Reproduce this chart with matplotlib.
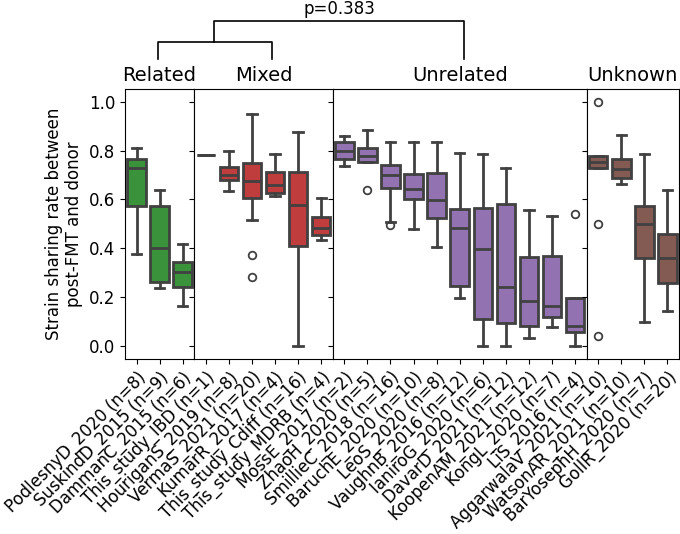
import matplotlib
matplotlib.use("Agg")
import matplotlib.pyplot as plt
from matplotlib.lines import Line2D

# group order and colours
groups = ["Related", "Mixed", "Unrelated", "Unknown"]
group_colors = ["#3a923a", "#c03d3e", "#9372b2", "#845b53"]
line_gray = "#414141"

studies = [
    "PodlesnyD_2020 (n=8)", "SuskindD_2015 (n=9)", "DammanC_2015 (n=6)",
    "This_study_IBD (n=1)", "HouriganS_2019 (n=8)", "VermaS_2021 (n=20)",
    "KumarR_2017 (n=4)", "This_study_Cdiff (n=16)", "This_study_MDRB (n=4)",
    "MossE_2017 (n=2)", "ZhaoH_2020 (n=5)", "SmillieC_2018 (n=16)",
    "BaruchE_2020 (n=10)", "LeoS_2020 (n=8)", "VaughnB_2016 (n=12)",
    "IaniroG_2020 (n=6)", "DavarD_2021 (n=12)", "KoopenAM_2021 (n=12)",
    "KongL_2020 (n=7)", "LiS_2016 (n=4)",
    "AggarwalaV_2021 (n=10)", "WatsonAR_2021 (n=10)", "BarYosephH_2020 (n=7)",
    "GollR_2020 (n=20)",
]
study_group = (["Related"] * 3 + ["Mixed"] * 6 + ["Unrelated"] * 11
               + ["Unknown"] * 4)

# box statistics
whislo = [0.376, 0.240, 0.166,
          0.782, 0.636, 0.517, 0.615, 0.000, 0.433,
          0.736, 0.754, 0.510, 0.480, 0.406, 0.197, 0.000, 0.000, 0.036,
          0.078, 0.000,
          0.727, 0.665, 0.100, 0.144]
q1 = [0.573, 0.265, 0.242,
      0.782, 0.678, 0.608, 0.625, 0.411, 0.455,
      0.767, 0.754, 0.646, 0.601, 0.523, 0.248, 0.113, 0.095, 0.084,
      0.121, 0.059,
      0.727, 0.687, 0.361, 0.260]
med = [0.728, 0.400, 0.302,
       0.782, 0.701, 0.675, 0.661, 0.577, 0.482,
       0.800, 0.778, 0.701, 0.642, 0.599, 0.484, 0.399, 0.242, 0.185,
       0.166, 0.082,
       0.755, 0.725, 0.501, 0.362]
q3 = [0.765, 0.573, 0.346,
      0.782, 0.731, 0.747, 0.713, 0.713, 0.528,
      0.833, 0.811, 0.740, 0.705, 0.710, 0.562, 0.566, 0.582, 0.366,
      0.371, 0.197,
      0.778, 0.765, 0.574, 0.461]
whishi = [0.811, 0.637, 0.418,
          0.782, 0.800, 0.950, 0.785, 0.875, 0.607,
          0.860, 0.882, 0.834, 0.834, 0.834, 0.789, 0.785, 0.727, 0.557,
          0.533, 0.197,
          0.778, 0.863, 0.785, 0.640]
fliers = [[], [], [],
          [], [], [0.374, 0.284], [], [], [],
          [], [0.640], [0.497], [], [], [], [], [], [],
          [], [0.540],
          [0.999, 0.499, 0.041], [], [], []]

fig = plt.figure(figsize=(6.8, 5.34), dpi=100)
counts = [study_group.count(g) for g in groups]
axes = fig.subplots(1, 4, sharey=True, gridspec_kw={"width_ratios": counts})
fig.subplots_adjust(left=0.1838, right=0.9985, top=0.8328, bottom=0.3283,
                    wspace=0)

for ax, g, col in zip(axes, groups, group_colors):
    idx = [i for i, s in enumerate(study_group) if s == g]
    stats = []
    for i in idx:
        stats.append(dict(whislo=whislo[i], q1=q1[i], med=med[i], q3=q3[i],
                          whishi=whishi[i], fliers=fliers[i]))
    ax.bxp(stats, positions=range(len(idx)), widths=0.8, patch_artist=True,
           boxprops=dict(facecolor=col, edgecolor=line_gray, linewidth=2),
           medianprops=dict(color=line_gray, linewidth=2),
           whiskerprops=dict(color=line_gray, linewidth=2),
           capprops=dict(color=line_gray, linewidth=2),
           flierprops=dict(marker="o", markerfacecolor="none",
                           markeredgecolor=line_gray, markersize=5.5,
                           markeredgewidth=1.3))
    ax.set_xlim(-0.5, len(idx) - 0.5)
    ax.set_xticks(range(len(idx)))
    ax.set_xticklabels([studies[i] for i in idx], rotation=45, ha="right",
                       rotation_mode="anchor", fontsize=12)
    ax.set_title(g, fontsize=14)
    ax.tick_params(axis="y", labelsize=12)

axes[0].set_ylim(-0.05, 1.05)
axes[0].set_yticks([0.0, 0.2, 0.4, 0.6, 0.8, 1.0])
axes[0].set_ylabel("Strain sharing rate between\npost-FMT and donor",
                   fontsize=12)

# significance brackets (figure pixel coords)
W, H = 680, 534
def fx(px):
    return px / W
def fy(py):
    return 1 - py / H

fig.add_artist(Line2D([fx(158.3), fx(158.3), fx(271.7), fx(271.7)],
                      [fy(59.3), fy(41.7), fy(41.7), fy(59.3)],
                      transform=fig.transFigure, color="black", lw=1.2))
fig.add_artist(Line2D([fx(214), fx(214), fx(464), fx(464)],
                      [fy(41.7), fy(21), fy(21), fy(59.3)],
                      transform=fig.transFigure, color="black", lw=1.2))
fig.text(fx(339), fy(14.5), "p=0.383", ha="center", va="baseline", fontsize=12)

fig.savefig("out.png", dpi=100)
